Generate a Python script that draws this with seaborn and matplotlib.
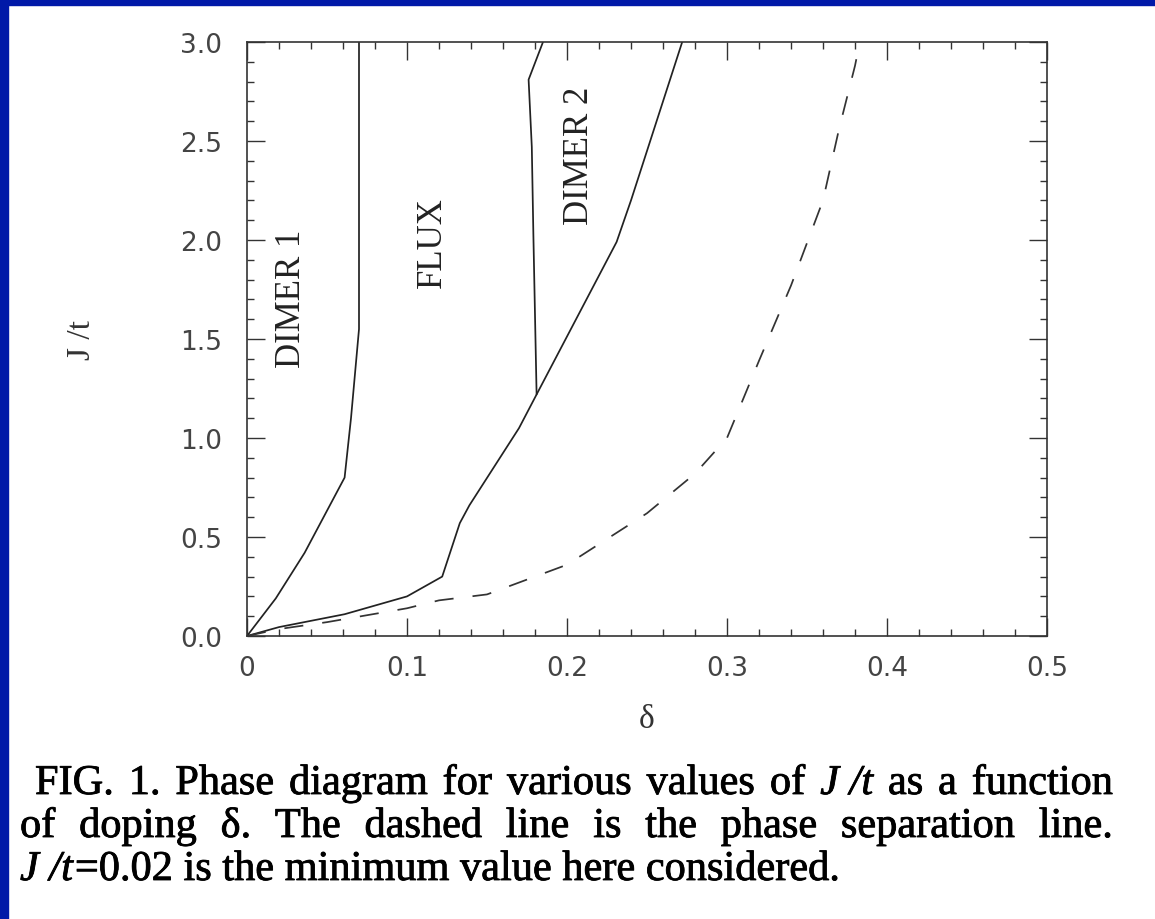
import numpy as np
import pandas as pd
import matplotlib
matplotlib.use("Agg")
import matplotlib.pyplot as plt
import matplotlib.patheffects as pe
import seaborn as sns
from matplotlib.patches import Rectangle
from matplotlib.ticker import MultipleLocator

# ---- data ----
dimer1_delta = [0.0, 0.018, 0.036, 0.061, 0.065, 0.07, 0.07]
dimer1_J     = [0.0, 0.19, 0.42, 0.80, 1.10, 1.55, 3.0]

flux_delta = [0.0, 0.02, 0.061, 0.10, 0.122, 0.133, 0.139, 0.17, 0.181, 0.231, 0.24, 0.272]
flux_J     = [0.0, 0.045, 0.11, 0.20, 0.30, 0.57, 0.66, 1.05, 1.22, 1.99, 2.2, 3.0]

dimer2_delta = [0.181, 0.179, 0.178, 0.176, 0.185]
dimer2_J     = [1.22, 2.02, 2.47, 2.81, 3.0]

sep_delta = [0.0, 0.02, 0.05, 0.10, 0.12, 0.15, 0.20, 0.25, 0.28, 0.30, 0.32, 0.34, 0.36, 0.37, 0.38, 0.383]
sep_J     = [0.0, 0.035, 0.07, 0.14, 0.18, 0.21, 0.36, 0.62, 0.82, 1.00, 1.39, 1.77, 2.20, 2.56, 2.88, 3.0]

phase_labels = ["DIMER 1", "FLUX", "DIMER 2"]
phase_x = [0.0275, 0.116, 0.208]
phase_y = [1.71, 1.99, 2.43]

x_ticks = [0, 0.1, 0.2, 0.3, 0.4, 0.5]
x_ticklabels = ["0", "0.1", "0.2", "0.3", "0.4", "0.5"]
y_ticks = [0.0, 0.5, 1.0, 1.5, 2.0, 2.5, 3.0]
y_ticklabels = ["0.0", "0.5", "1.0", "1.5", "2.0", "2.5", "3.0"]

caption_lines = [
    [("FIG.", "normal"), ("1.", "normal"), ("Phase", "normal"), ("diagram", "normal"), ("for", "normal"),
     ("various", "normal"), ("values", "normal"), ("of", "normal"), ("J /t", "italic"), ("as", "normal"),
     ("a", "normal"), ("function", "normal")],
    [("of", "normal"), ("doping", "normal"), ("δ.", "normal"), ("The", "normal"), ("dashed", "normal"),
     ("line", "normal"), ("is", "normal"), ("the", "normal"), ("phase", "normal"), ("separation", "normal"),
     ("line.", "normal")],
]
caption_last = [("J /t", "italic"), ("=0.02 is the minimum value here considered.", "normal")]

# ---- figure ----
sns.set_style("white")
W, H = 1155, 920
fig = plt.figure(figsize=(W / 100, H / 100), dpi=100)
fig.patch.set_facecolor("white")

ax = fig.add_axes([247 / W, 1 - 637 / H, (1047 - 247) / W, (637 - 43) / H])

line_color = "#222222"
lw = 1.25
sns.lineplot(x=dimer1_delta, y=dimer1_J, sort=False, estimator=None, ax=ax, color=line_color, lw=lw)
sns.lineplot(x=flux_delta, y=flux_J, sort=False, estimator=None, ax=ax, color=line_color, lw=lw)
sns.lineplot(x=dimer2_delta, y=dimer2_J, sort=False, estimator=None, ax=ax, color=line_color, lw=lw)
sns.lineplot(x=sep_delta, y=sep_J, sort=False, estimator=None, ax=ax, color="#333333", lw=lw,
             linestyle=(0, (11, 11)))

ax.set_xlim(0, 0.5)
ax.set_ylim(0, 3.0)
ax.set_xticks(x_ticks)
ax.set_xticklabels(x_ticklabels)
ax.set_yticks(y_ticks)
ax.set_yticklabels(y_ticklabels)
ax.xaxis.set_minor_locator(MultipleLocator(0.02))
ax.yaxis.set_minor_locator(MultipleLocator(0.1))
ax.tick_params(which="both", direction="in", top=True, right=True, bottom=True, left=True,
               color="#333333", width=1.0)
ax.tick_params(which="major", length=13)
ax.tick_params(which="minor", length=5)
ax.tick_params(axis="x", which="major", pad=14)
ax.tick_params(axis="y", which="major", pad=18)
for lab in ax.get_xticklabels() + ax.get_yticklabels():
    lab.set_fontfamily("DejaVu Sans")
    lab.set_fontsize(19)
    lab.set_color("#444444")
for s in ax.spines.values():
    s.set_color("#333333")
    s.set_linewidth(1.2)
    s.set_visible(True)

ax.set_xlabel("δ", fontsize=24, family="Liberation Serif", color="#333333", labelpad=16)
ax.set_ylabel("J /t", fontsize=24, family="Liberation Serif", color="#333333", labelpad=60)

for lab, x, y in zip(phase_labels, phase_x, phase_y):
    ax.text(x, y, lab, rotation=90, ha="center", va="center", fontsize=25,
            family="Liberation Serif", color="#222222")

# blue frame (left and top edges)
blue = "#0019A8"
fig.patches.append(Rectangle((0, 0), 8 / W, 1, transform=fig.transFigure, color=blue, zorder=10))
fig.patches.append(Rectangle((0, 1 - 6 / H), 1, 6 / H, transform=fig.transFigure, color=blue, zorder=10))

# caption
cap_fs = 30.5
cap_family = "Liberation Serif"
cap_weight = "normal"
cap_color = "#000000"
cap_fx = [pe.withStroke(linewidth=0.6, foreground=cap_color)]
fig.canvas.draw()
renderer = fig.canvas.get_renderer()

def place_justified(words, x0, x1, y_base):
    texts = []
    for w, st in words:
        t = fig.text(0, 1 - y_base / H, w, fontsize=cap_fs, family=cap_family, fontstyle=st,
                     fontweight=cap_weight, color=cap_color, va="baseline", ha="left",
                     path_effects=cap_fx)
        texts.append(t)
    widths = [t.get_window_extent(renderer).width for t in texts]
    gap = (x1 - x0 - sum(widths)) / (len(texts) - 1)
    x = x0
    for t, w in zip(texts, widths):
        t.set_x(x / W)
        x += w + gap

place_justified(caption_lines[0], 35, 1113, 795)
place_justified(caption_lines[1], 20, 1113, 838)

x = 20
for w, st in caption_last:
    t = fig.text(x / W, 1 - 881 / H, w, fontsize=cap_fs, family=cap_family, fontstyle=st,
                 fontweight=cap_weight, color=cap_color, va="baseline", ha="left",
                 path_effects=cap_fx)
    x += t.get_window_extent(renderer).width + 2

fig.savefig("out.png", dpi=100)
